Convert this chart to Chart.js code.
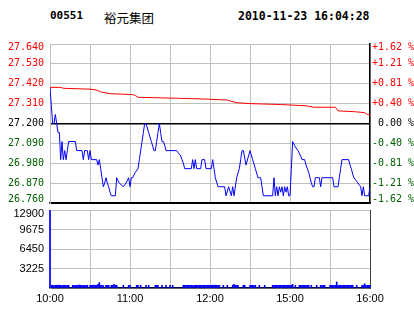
<!DOCTYPE html>
<html>
<head>
<meta charset="utf-8">
<script src="https://cdn.jsdelivr.net/npm/chart.js@4.4.0/dist/chart.umd.min.js"></script>
<style>
  html, body { margin: 0; padding: 0; background: #fff; }
  #wrap { position: relative; width: 414px; height: 314px; overflow: hidden; }
  .t { position: absolute; top: 9px; line-height: 14px; color: #000; white-space: pre; }
  .code { left: 50px; font: bold 11px "DejaVu Sans Mono", monospace; }
  .name { left: 104px; top: 8px; font: 12.5px "Noto Sans CJK SC", sans-serif; }
  .stamp { left: 238px; font: bold 11.5px "DejaVu Sans Mono", monospace; }
  canvas { position: absolute; left: 0; }
  #price { top: 36px; }
  #vol { top: 203px; }
</style>
</head>
<body>
<div id="wrap">
  <div class="t code">00551</div>
  <div class="t name">裕元集团</div>
  <div class="t stamp">2010-11-23 16:04:28</div>
  <canvas id="price" width="414" height="174"></canvas>
  <canvas id="vol" width="414" height="111"></canvas>
</div>
<script>
// ---------- data (minutes after 10:00, lunch break removed) ----------
var prevClose = 27.20;

var priceTicks = [26.76, 26.87, 26.98, 27.09, 27.20, 27.31, 27.42, 27.53, 27.64];
var volTicks = [0, 3225, 6450, 9675, 12900];
var timeTickMin = [0, 60, 120, 180, 240];
var timeTickLabels = ['10:00', '11:00', '12:00', '15:00', '16:00'];

var priceMin = [0, 1, 2, 3, 4, 5, 6, 7, 8, 9, 10, 11, 12, 13, 14, 19, 20, 24, 25, 26,
  28, 29, 30, 31, 35, 36, 37, 38, 39, 40, 41, 42, 43, 44, 45, 46, 49, 50, 52, 55,
  57, 59, 60, 61, 62, 64, 66, 67, 68, 69, 70, 71, 72, 74, 76, 78, 79, 80, 81, 82,
  83, 84, 85, 86, 87, 95, 96, 97, 98, 99, 100, 101, 106, 107, 108, 109, 110, 113, 114, 116,
  117, 121, 122, 123, 124, 126, 131, 132, 134, 136, 137, 138, 140, 142, 143, 144, 145, 147, 150, 152,
  154, 156, 158, 159, 160, 167, 168, 169, 170, 171, 172, 173, 174, 175, 176, 177, 178, 179, 180, 181,
  182, 184, 186, 188, 189, 191, 192, 193, 194, 195, 196, 197, 198, 199, 202, 203, 204, 212, 213, 216,
  217, 218, 219, 224, 225, 226, 227, 228, 230, 232, 233, 234, 235, 236, 239, 240];
var price = [27.40, 27.30, 27.20, 27.20, 27.25, 27.20, 27.15, 27.15, 27.00, 27.10, 27.00, 27.05, 27.00, 27.05, 27.10, 27.10, 27.05, 27.05, 27.00, 27.05,
  27.05, 27.00, 27.05, 27.00, 27.00, 26.97, 27.00, 26.95, 26.90, 26.85, 26.87, 26.90, 26.87, 26.85, 26.82, 26.80, 26.80, 26.90, 26.87, 26.85,
  26.87, 26.90, 26.85, 26.90, 26.90, 26.93, 26.95, 27.00, 27.05, 27.10, 27.15, 27.20, 27.20, 27.15, 27.10, 27.05, 27.05, 27.10, 27.15, 27.20,
  27.15, 27.10, 27.10, 27.08, 27.05, 27.05, 27.04, 27.03, 27.02, 27.00, 26.98, 26.95, 26.95, 27.00, 26.95, 27.00, 26.95, 26.95, 27.00, 27.00,
  26.95, 26.95, 27.00, 26.95, 26.90, 26.85, 26.85, 26.80, 26.85, 26.80, 26.85, 26.80, 26.90, 26.95, 27.00, 27.05, 27.05, 26.97, 27.05, 27.00,
  26.95, 26.90, 26.90, 26.85, 26.80, 26.80, 26.90, 26.80, 26.85, 26.80, 26.85, 26.82, 26.85, 26.80, 26.85, 26.82, 26.85, 26.80, 26.80, 26.95,
  27.10, 27.07, 27.05, 27.02, 27.00, 27.00, 26.97, 26.95, 26.93, 26.90, 26.87, 26.85, 26.85, 26.90, 26.90, 26.85, 26.90, 26.90, 26.85, 26.85,
  26.90, 26.95, 27.00, 27.00, 26.97, 26.95, 26.92, 26.90, 26.88, 26.86, 26.85, 26.80, 26.85, 26.80, 26.80, 26.85];

var avgMin = [0, 8, 10, 30, 35, 38, 45, 62, 64, 66, 95, 117, 133, 135, 140, 150, 173, 192, 198, 214, 216, 229, 236, 238, 240];
var avg = [27.40, 27.40, 27.395, 27.39, 27.385, 27.375, 27.365, 27.36, 27.355, 27.345, 27.34, 27.335, 27.33, 27.325, 27.315,
  27.31, 27.305, 27.298, 27.29, 27.29, 27.27, 27.265, 27.26, 27.25, 27.248];

// one value per minute, 0..240
var volume = [
  12900, 450, 450, 400, 450, 450, 500, 450, 450, 400,
  450, 450, 450, 400, 450, 0, 0, 450, 450, 400,
  450, 450, 500, 450, 450, 450, 400, 450, 450, 0,
  450, 450, 450, 500, 450, 450, 600, 900, 450, 450,
  400, 0, 450, 450, 450, 0, 450, 450, 600, 450,
  450, 0, 0, 0, 0, 450, 0, 0, 0, 450,
  450, 0, 0, 0, 0, 450, 450, 0, 450, 0,
  0, 0, 450, 0, 450, 0, 0, 0, 0, 450,
  450, 450, 0, 0, 450, 0, 0, 450, 0, 0,
  450, 0, 450, 0, 0, 0, 0, 0, 0, 0,
  450, 450, 450, 450, 450, 450, 450, 400, 450, 450,
  450, 450, 450, 450, 450, 450, 450, 450, 450, 450,
  450, 450, 450, 500, 450, 450, 450, 450, 0, 0,
  450, 0, 0, 450, 0, 0, 0, 450, 600, 450,
  450, 450, 0, 0, 0, 450, 450, 0, 0, 0,
  450, 450, 450, 450, 450, 0, 0, 450, 0, 0,
  0, 450, 0, 0, 0, 0, 0, 450, 450, 450,
  450, 450, 450, 450, 450, 450, 450, 450, 450, 450,
  450, 450, 600, 0, 450, 0, 0, 450, 450, 450,
  450, 450, 450, 450, 450, 0, 450, 0, 0, 0,
  450, 0, 0, 450, 450, 450, 450, 0, 0, 0,
  450, 450, 450, 450, 450, 1000, 450, 450, 450, 450,
  450, 450, 450, 450, 450, 450, 450, 450, 0, 0,
  450, 0, 0, 0, 450, 450, 700, 450, 450, 450,
  450
];

// ---------- helpers ----------
var RED = '#ff0000', GREEN = '#006000', GRID = '#c0c0c0';
var LEFT_W = 50, RIGHT_W = 44;

function toPoints(xs, ys) {
  return xs.map(function (x, i) { return { x: x, y: ys[i] }; });
}
function isClose(v) { return Math.abs(v - prevClose) < 1e-6; }
function priceColor(ctx) {
  var v = ctx.tick.value;
  if (isClose(v)) return '#000';
  return v > prevClose ? RED : GREEN;
}
// keep the end labels inside the panel: bottom one lifted, top one lowered
function inner(s, i, n) {
  if (i === 0) return [s, ''];
  if (i === n - 1) return ['', s];
  return s;
}
function pctLabel(v, i, ticks) {
  var p = (v - prevClose) / prevClose * 100;
  var s = isClose(v) ? ' 0.00 %' : (p > 0 ? '+' : '-') + Math.abs(p).toFixed(2) + ' %';
  return inner(s, i, ticks.length);
}
function timeLabel(v) {
  var i = timeTickMin.indexOf(v);
  return i === -1 ? '' : timeTickLabels[i];
}
// fixed axis box, no extra room reserved for the end labels
function fitY(width) {
  return function (s) {
    s.width = width;
    s.paddingTop = 0;
    s.paddingBottom = 0;
  };
}

var monoFont = { family: 'DejaVu Sans Mono', size: 10, lineHeight: 0.75 };
var sansFont = { family: 'Liberation Sans', size: 11 };
var sansFontTight = { family: 'Liberation Sans', size: 11, lineHeight: 0.65 };

// ---------- price panel ----------
new Chart(document.getElementById('price'), {
  type: 'line',
  data: {
    datasets: [
      { data: toPoints(avgMin, avg), borderColor: RED, borderWidth: 1, pointRadius: 0, tension: 0 },
      { data: toPoints(priceMin, price), borderColor: '#0000ff', borderWidth: 1, pointRadius: 0, tension: 0 }
    ]
  },
  options: {
    responsive: false,
    animation: false,
    devicePixelRatio: 1,
    layout: { padding: { top: 8, bottom: 7, left: 0, right: 0 } },
    plugins: { legend: { display: false }, tooltip: { enabled: false } },
    scales: {
      x: {
        type: 'linear', min: 0, max: 240,
        ticks: { display: false, stepSize: 30 },
        grid: { color: GRID, drawTicks: false },
        border: { color: '#000', width: 1.5 },
        afterFit: function (s) { s.height = 0; }
      },
      y: {
        position: 'left', min: 26.76, max: 27.64,
        afterBuildTicks: function (s) { s.ticks = priceTicks.map(function (v) { return { value: v }; }); },
        ticks: {
          font: monoFont, padding: 6, color: priceColor,
          callback: function (v, i, ticks) { return inner(v.toFixed(3), i, ticks.length); }
        },
        grid: {
          drawTicks: false,
          color: function (ctx) { return ctx.tick && (isClose(ctx.tick.value) || ctx.index === 0) ? '#000' : GRID; },
          lineWidth: function (ctx) { return ctx.tick && isClose(ctx.tick.value) ? 1.5 : 1; }
        },
        border: { color: GRID },
        afterFit: fitY(LEFT_W)
      },
      y2: {
        position: 'right', min: 26.76, max: 27.64,
        afterBuildTicks: function (s) { s.ticks = priceTicks.map(function (v) { return { value: v }; }); },
        ticks: { font: monoFont, padding: 2, color: priceColor, callback: pctLabel },
        grid: { drawOnChartArea: false, drawTicks: false },
        border: { color: '#000', width: 1.5 },
        afterFit: fitY(RIGHT_W)
      }
    }
  }
});

// ---------- volume panel ----------
new Chart(document.getElementById('vol'), {
  type: 'bar',
  data: {
    datasets: [{
      data: volume.map(function (v, i) { return { x: i, y: v }; }),
      backgroundColor: '#0000ff', borderWidth: 0, barThickness: 1,
      clip: { left: 2, top: 0, right: 2, bottom: 0 }
    }]
  },
  options: {
    responsive: false,
    animation: false,
    devicePixelRatio: 1,
    layout: { padding: { top: 7, bottom: 6, left: 0, right: 0 } },
    plugins: { legend: { display: false }, tooltip: { enabled: false } },
    scales: {
      x: {
        type: 'linear', min: 0, max: 240, offset: false,
        afterBuildTicks: function (s) {
          var t = [];
          for (var m = 0; m <= 240; m += 30) t.push({ value: m });
          s.ticks = t;
        },
        ticks: { font: sansFont, color: '#000', padding: 4, maxRotation: 0, autoSkip: false, callback: timeLabel },
        grid: { color: GRID, drawTicks: false, offset: false },
        border: { color: '#000', width: 1.5 },
        afterFit: function (s) { s.height = 20; }
      },
      y: {
        position: 'left', min: 0, max: 12900,
        afterBuildTicks: function (s) { s.ticks = volTicks.map(function (v) { return { value: v }; }); },
        ticks: {
          font: sansFontTight, color: '#000', padding: 6,
          callback: function (v, i, ticks) { return v === 0 ? '' : inner(String(v), i, ticks.length); }
        },
        grid: { color: GRID, drawTicks: false },
        border: { color: GRID },
        afterFit: fitY(LEFT_W)
      },
      y2: {
        position: 'right', min: 0, max: 12900,
        ticks: { display: false },
        grid: { drawOnChartArea: false, drawTicks: false },
        border: { color: '#404040' },
        afterFit: fitY(RIGHT_W)
      }
    }
  }
});
</script>
</body>
</html>
